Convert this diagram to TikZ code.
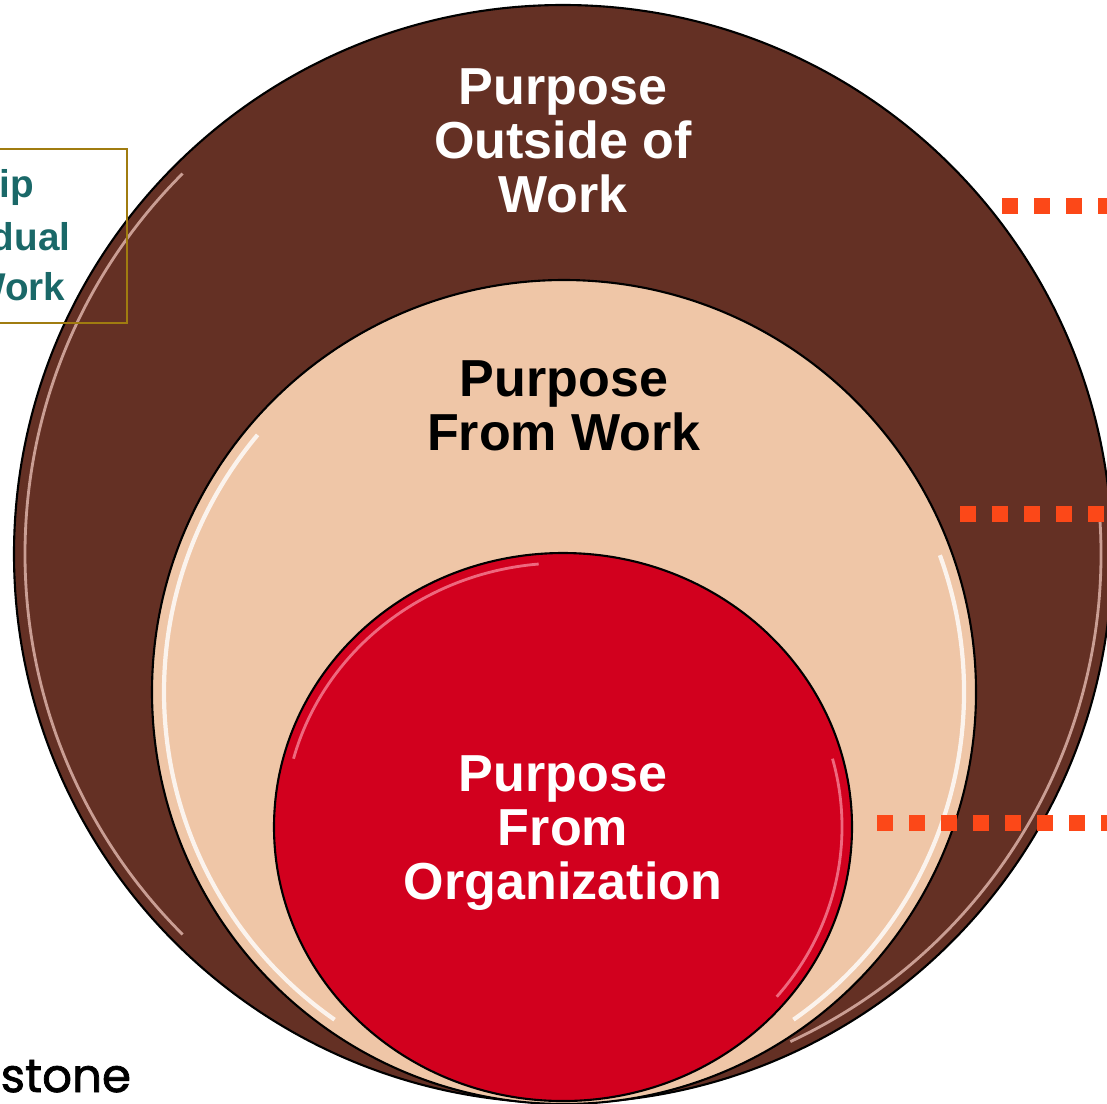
\documentclass[tikz,border=0pt]{standalone}
\usepackage{fontspec}
\setmainfont{Liberation Sans}
\newfontfamily\logofont{Poppins}[FakeBold=1.6]
\definecolor{outerbrown}{RGB}{100,48,36}
\definecolor{peach}{RGB}{239,198,167}
\definecolor{deepred}{RGB}{210,0,30}
\definecolor{dotorange}{RGB}{252,72,24}
\definecolor{tealtext}{RGB}{26,104,104}
\definecolor{boxgold}{RGB}{160,124,16}
\definecolor{brownshine}{RGB}{228,186,176}
\definecolor{redshine}{RGB}{245,130,150}

\begin{document}
\begin{tikzpicture}[x=0.01cm,y=-0.01cm]
\tikzstyle{every node}=[inner sep=0pt, align=center, font=\fontsize{14.8}{15.4}\selectfont\bfseries]
\tikzstyle{ring}=[draw=black, line width=0.6pt]
\tikzstyle{shine}=[line width=0.8pt, opacity=0.8]
\tikzstyle{side}=[tealtext, anchor=base east, font=\fontsize{11}{14}\selectfont\bfseries]
\tikzstyle{dots}=[dotorange, line width=4.5pt, dash pattern=on 4.5pt off 4.6pt]
\useasboundingbox (0,0) rectangle (1107,1103);
\filldraw[ring, fill=outerbrown] (563,554) circle (549);
\draw[shine, brownshine] (563,554) ++(135:538) arc[start angle=135, end angle=225, radius=538];
\draw[shine, brownshine] (563,554) ++(-5:538) arc[start angle=-5, end angle=65, radius=538];
\filldraw[ring, fill=peach] (564,692) circle (412);
\draw[shine, white, line width=1.2pt] (564,692) ++(125:400) arc[start angle=125, end angle=220, radius=400];
\draw[shine, white, line width=1.2pt] (564,692) ++(-20:400) arc[start angle=-20, end angle=55, radius=400];
\filldraw[ring, fill=deepred] (563,827) ellipse [x radius=289, y radius=274];
\draw[shine, redshine] (563,827) ++(195:279 and 264) arc[start angle=195, end angle=265, x radius=279, y radius=264];
\draw[shine, redshine] (563,827) ++(-15:279 and 264) arc[start angle=-15, end angle=40, x radius=279, y radius=264];
\draw (563,68) node (outer) [anchor=north, white] {Purpose\\Outside of\\Work};
\draw (564,360) node (middle) [anchor=north, black] {Purpose\\From Work};
\draw (563,755) node (inner) [anchor=north, white] {Purpose\\From\\Organization};
\draw[boxgold, line width=0.45pt] (-20,149) rectangle (127,323);
\draw (35,197) node (side1) [side] {ip};
\draw (71,250) node (side2) [side] {dual};
\draw (66,300) node (side3) [side] {Work};
\draw (0,1092) node (logo) [anchor=base west, font=\logofont\fontsize{13.3}{15}\selectfont] {stone};
\coordinate (dot1a) at (1002,206);
\coordinate (dot1b) at (1150,206);
\coordinate (dot2a) at (960,514);
\coordinate (dot2b) at (1150,514);
\coordinate (dot3a) at (877,823);
\coordinate (dot3b) at (1150,823);
\draw[dots] (dot1a) -- (dot1b);
\draw[dots] (dot2a) -- (dot2b);
\draw[dots] (dot3a) -- (dot3b);
\end{tikzpicture}
\end{document}
